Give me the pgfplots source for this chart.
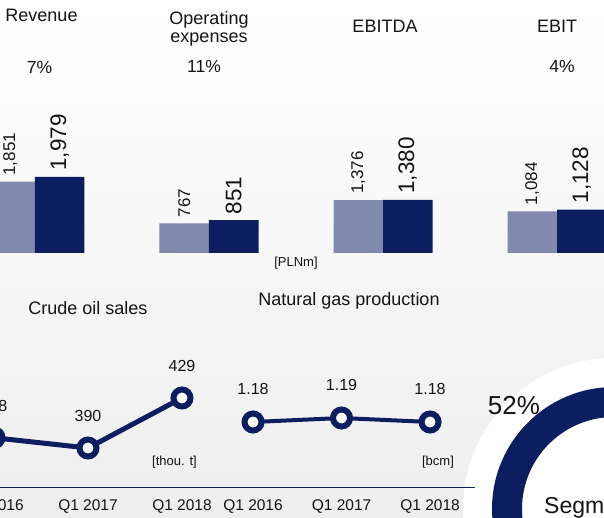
\documentclass[border=0pt]{standalone}
\usepackage{pgfplots}
\pgfplotsset{compat=1.18}
\usepackage{fontspec}
\setmainfont{Liberation Sans}
\definecolor{navy}{RGB}{12,30,96}
\definecolor{lightbar}{RGB}{129,137,172}
\definecolor{txt}{RGB}{20,20,20}
\definecolor{bggray}{RGB}{238,238,238}
\newcommand{\fs}[1]{\fontsize{#1}{#1}\selectfont}

\begin{document}
\begin{tikzpicture}
\path[use as bounding box] (0pt,0pt) rectangle (604pt,517pt);
\clip (0pt,0pt) rectangle (604pt,517pt);
\shade[top color=white, bottom color=bggray] (0pt,0pt) rectangle (604pt,517pt);
% donut decoration (52% segment ring)
\fill[white] (614pt,8pt) circle[radius=151pt];
\fill[navy, even odd rule] (614pt,8pt) circle[radius=122pt] (614pt,8pt) circle[radius=92pt];

% ---------- bar chart ----------
\begin{axis}[at={(0pt,264pt)}, anchor=south west, scale only axis,
  width=604pt, height=77pt, xmin=-0.2011, xmax=3.2701, ymin=0, ymax=2000,
  hide axis, ybar=0pt, bar width=49.5pt, clip=false,
  /pgf/number format/.cd, 1000 sep={,}, assume math mode=true]
\addplot[fill=lightbar, draw=none, nodes near coords,
  every node near coord/.append style={rotate=90, anchor=west, font=\fs{17}, text=txt, inner xsep=6pt}]
  coordinates {(0,1851) (1,767) (2,1376) (3,1084)};
\addplot[fill=navy, draw=none, nodes near coords,
  every node near coord/.append style={rotate=90, anchor=west, font=\fs{22.5}, text=txt, inner xsep=6pt}]
  coordinates {(0,1979) (1,851) (2,1380) (3,1128)};
\end{axis}

% ---------- crude oil sales ----------
\begin{axis}[at={(-62.4pt,30pt)}, anchor=south west, scale only axis,
  width=272.4pt, height=127pt, xmin=-0.6, xmax=2.298, ymin=359.6, ymax=458.6,
  axis x line*=bottom, axis y line=none, x axis line style={navy, line width=1pt, -},
  xtick={0,1,2}, xticklabels={Q1 2016,Q1 2017,Q1 2018}, major tick length=0pt,
  xticklabel style={font=\fs{15.5}, text=txt, yshift=-9pt}, clip=false,
  /pgf/number format/assume math mode=true]
\addplot[navy, line width=5pt, mark=*, mark size=8.5pt,
  mark options={fill=white, draw=navy, line width=6pt},
  nodes near coords, every node near coord/.append style={anchor=south, inner sep=0pt, yshift=23pt, font=\fs{16}, text=txt}]
  coordinates {(0,398) (1,390) (2,429)};
\end{axis}

% ---------- natural gas production ----------
\begin{axis}[at={(210pt,30pt)}, anchor=south west, scale only axis,
  width=265pt, height=127pt, xmin=-0.486, xmax=2.508, ymin=1.0175, ymax=1.335,
  axis x line*=bottom, axis y line=none, x axis line style={navy, line width=1pt, -},
  xtick={0,1,2}, xticklabels={Q1 2016,Q1 2017,Q1 2018}, major tick length=0pt,
  xticklabel style={font=\fs{15.5}, text=txt, yshift=-9pt}, clip=false,
  /pgf/number format/.cd, fixed, fixed zerofill, precision=2, assume math mode=true]
\addplot[navy, line width=4pt, mark=*, mark size=8.5pt,
  mark options={fill=white, draw=navy, line width=6pt},
  nodes near coords, every node near coord/.append style={anchor=south, inner sep=0pt, yshift=24pt, font=\fs{16}, text=txt}]
  coordinates {(0,1.18) (1,1.19) (2,1.18)};
\end{axis}

% ---------- texts ----------
\begin{scope}[text=txt]
\node[anchor=base, font=\fs{18}] at (41.5pt,495pt) {Revenue};
\node[anchor=base, font=\fs{18}] at (209pt,492pt) {Operating};
\node[anchor=base, font=\fs{18}] at (209pt,474.5pt) {expenses};
\node[anchor=base, font=\fs{18}] at (385pt,484pt) {EBITDA};
\node[anchor=base, font=\fs{18}] at (557pt,484pt) {EBIT};
\node[anchor=base, font=\fs{17.5}] at (39.5pt,443.7pt) {7\%};
\node[anchor=base, font=\fs{17.5}] at (204pt,444pt) {11\%};
\node[anchor=base, font=\fs{17.5}] at (562pt,444pt) {4\%};
\node[anchor=base, font=\fs{13}] at (296pt,250.5pt) {[PLNm]};
\node[anchor=base, font=\fs{18}] at (88pt,202.7pt) {Crude oil sales};
\node[anchor=base, font=\fs{18}] at (349pt,212pt) {Natural gas production};
\node[anchor=base, font=\fs{13}] at (174.5pt,52pt) {[thou. t]};
\node[anchor=base, font=\fs{13}] at (438pt,52pt) {[bcm]};
\node[anchor=base, font=\fs{26}] at (514pt,103pt) {52\%};
\node[anchor=base west, font=\fs{23}, inner sep=0pt] at (544pt,4pt) {Segment};
\end{scope}
\end{tikzpicture}
\end{document}
